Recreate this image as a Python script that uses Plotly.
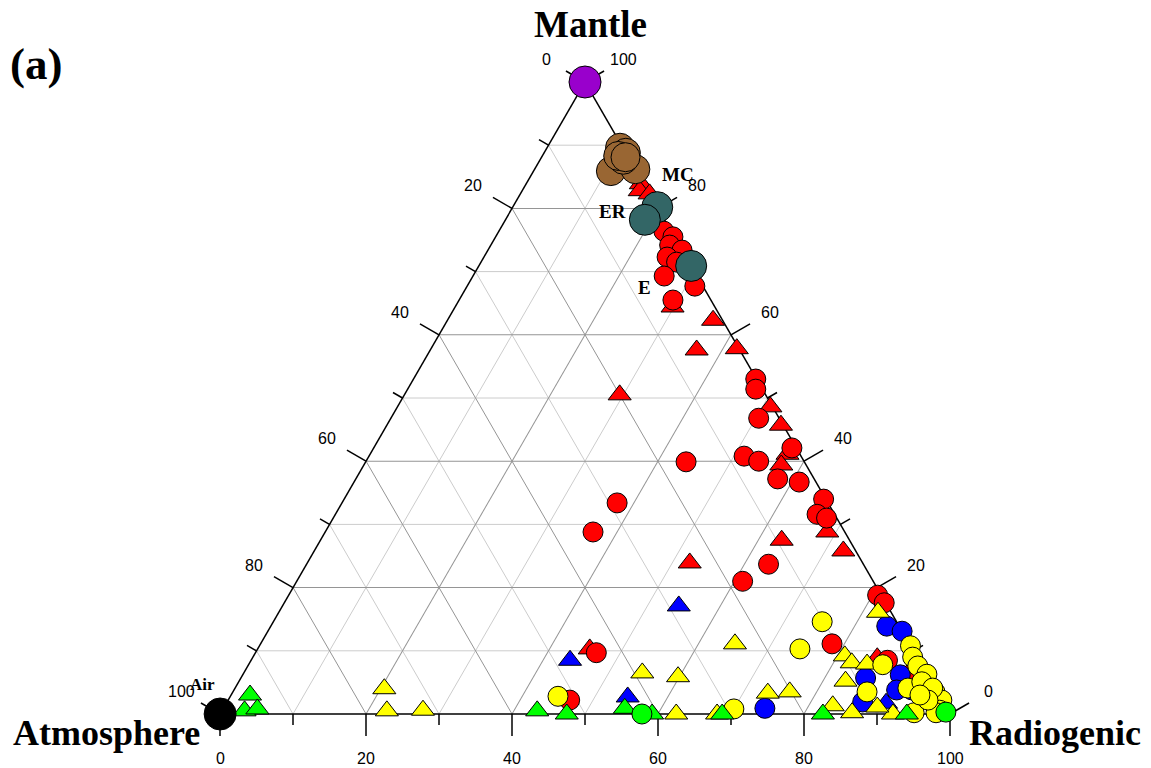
import math
import plotly.graph_objects as go

# Each sample: (mantle %, atmosphere %, radiogenic %)
RED_CIRCLES = [
    (76.4, 1.0, 22.6), (75.5, 0.2, 24.3), (74.2, 1.3, 24.5), (73.4, 0.0, 26.6),
    (72.3, 2.6, 25.1), (71.5, 1.7, 26.8), (69.3, 4.5, 26.2), (67.7, 1.1, 31.2),
    (65.5, 5.2, 29.3), (53.0, 0.1, 46.9), (51.4, 0.9, 47.7), (46.8, 2.8, 50.4),
    (42.1, 0.6, 57.3), (39.9, 16.2, 43.9), (40.8, 7.8, 51.4), (40.0, 6.2, 53.8),
    (37.2, 5.0, 57.8), (36.7, 2.3, 61.0), (34.0, 0.3, 65.7), (31.6, 2.4, 66.0),
    (31.0, 1.4, 67.6), (33.4, 28.9, 37.7), (28.8, 34.5, 36.7), (23.7, 13.0, 63.3),
    (21.0, 17.9, 61.1), (11.1, 10.6, 78.3), (9.7, 43.6, 46.7), (2.2, 51.0, 46.8),
    (18.8, 0.5, 80.7), (17.6, 0.2, 82.2), (8.5, 4.3, 87.2), (5.1, 3.3, 91.6),
    (6.5, 1.8, 91.7),
]
RED_TRIANGLES = [
    (83.9, 0.4, 15.7), (82.8, 1.1, 16.1), (82.3, 0.0, 17.7), (64.4, 5.8, 29.8),
    (62.3, 1.3, 36.4), (57.6, 5.9, 36.5), (57.8, 0.3, 41.9), (50.5, 20.0, 29.5),
    (48.6, 0.3, 51.1), (45.7, 0.3, 54.0), (41.1, 1.7, 57.2), (39.4, 3.4, 57.2),
    (28.8, 2.4, 68.8), (27.5, 9.3, 63.2), (25.8, 1.7, 72.5), (23.9, 23.7, 52.4),
    (10.3, 44.2, 45.5), (8.9, 5.5, 85.6),
]
BLUE_CIRCLES = [
    (13.9, 1.7, 84.4), (13.1, 0.0, 86.9), (5.7, 8.7, 85.6), (1.9, 11.0, 87.1),
    (6.2, 3.7, 90.1), (3.8, 5.4, 90.8), (0.9, 24.9, 74.2), (3.8, 3.3, 92.9),
]
BLUE_TRIANGLES = [
    (17.1, 28.6, 54.3), (8.5, 47.8, 43.7), (2.7, 42.8, 54.5), (1.7, 7.9, 90.4),
]
YELLOW_CIRCLES = [
    (14.6, 10.2, 75.2), (10.3, 15.4, 74.3), (2.8, 52.3, 44.9), (0.8, 29.2, 70.0),
    (3.5, 9.6, 86.9), (7.8, 5.3, 86.9), (10.8, 0.0, 89.2), (9.0, 0.6, 90.4),
    (7.6, 0.6, 91.8), (4.1, 3.7, 92.2), (5.4, 0.7, 93.9), (6.3, 0.0, 93.7),
    (3.5, 0.3, 96.2), (2.2, 0.0, 97.8), (0.6, 1.1, 98.3), (0.2, 4.8, 95.0),
    (0.2, 1.8, 98.0), (5.1, 1.3, 93.6), (4.1, 0.3, 95.6), (2.2, 1.9, 95.9),
    (3.0, 2.6, 94.4),
]
YELLOW_TRIANGLES = [
    (4.0, 75.5, 20.5), (0.5, 76.9, 22.6), (0.6, 71.9, 27.5), (6.5, 38.9, 54.6),
    (5.9, 34.3, 59.8), (0.0, 37.5, 62.5), (11.1, 23.9, 65.0), (0.0, 31.9, 68.1),
    (3.3, 23.3, 73.4), (3.5, 20.2, 76.3), (1.3, 15.4, 83.3), (0.2, 13.3, 86.5),
    (5.2, 11.7, 83.1), (9.2, 9.8, 81.0), (8.1, 9.4, 82.5), (7.9, 7.4, 84.7),
    (16.1, 1.8, 82.1), (0.0, 7.8, 92.2), (1.1, 9.4, 89.5),
]
GREEN_TRIANGLES = [
    (3.0, 94.4, 2.6), (0.5, 96.4, 3.1), (0.8, 94.5, 4.7), (0.5, 56.3, 43.2),
    (0.0, 52.5, 47.5), (0.9, 44.1, 55.0), (0.0, 40.8, 59.2), (0.0, 17.4, 82.6),
    (0.0, 5.9, 94.1), (0.0, 31.2, 68.8),
]
GREEN_CIRCLES = [(0.0, 42.2, 57.8), (0.3, 0.4, 99.3)]
MC_SAMPLES = [
    (89.6, 0.4, 10.0), (88.8, 0.0, 11.2), (85.9, 3.5, 10.6), (86.2, 0.0, 13.8),
    (87.7, 0.9, 11.4), (88.3, 1.3, 10.4), (88.1, 0.4, 11.5),
]
END_MEMBERS = [(80.2, 0.0, 19.8), (78.2, 2.7, 19.1), (70.9, 0.0, 29.1)]
END_MEMBER_NAMES = ["MC", "ER", "E"]
MANTLE = [(100.0, 0.0, 0.0)]
AIR = [(0.0, 100.0, 0.0)]

TICK_VALUES = list(range(0, 101, 10))
LABEL_VALUES = list(range(0, 101, 20))
MINOR_GRID = [10, 30, 50, 70, 90]

# ---- layout geometry (pixels) ----
W, H = 1151, 768
SIDE = 730.0
LEFT, BOTTOM_Y = 220, 714
TRI_H = SIDE * math.sqrt(3) / 2
TOP = BOTTOM_Y - TRI_H
PX_PER_PCT = TRI_H / 100.0

fig = go.Figure()


def add_points(points, symbol, color, size):
    fig.add_trace(go.Scatterternary(
        a=[p[0] for p in points], b=[p[1] for p in points], c=[p[2] for p in points],
        mode="markers", cliponaxis=False, showlegend=False,
        marker=dict(symbol=symbol, color=color, size=size,
                    line=dict(color="black", width=1)),
    ))


RED, BLUE, YELLOW, GREEN = "#FF0000", "#0000FF", "#FFFF00", "#00FF00"
TRI, CIR = 20, 20
add_points(RED_TRIANGLES, "triangle-up", RED, TRI)
add_points(RED_CIRCLES, "circle", RED, CIR)
add_points(BLUE_TRIANGLES, "triangle-up", BLUE, TRI)
add_points(BLUE_CIRCLES, "circle", BLUE, CIR)
add_points(YELLOW_TRIANGLES, "triangle-up", YELLOW, TRI)
add_points(YELLOW_CIRCLES, "circle", YELLOW, CIR)
add_points(GREEN_TRIANGLES, "triangle-up", GREEN, TRI)
add_points(GREEN_CIRCLES, "circle", GREEN, CIR)
add_points(MC_SAMPLES, "circle", "#996633", 29)
add_points(END_MEMBERS, "circle", "#336666", 31)
add_points(MANTLE, "circle", "#9900CC", 32)
add_points(AIR, "circle", "#000000", 32)


def axis(grid):
    return dict(min=0, tickmode="linear", tick0=0, dtick=20, ticks="",
                showticklabels=False, showgrid=True, gridcolor=grid, gridwidth=1,
                showline=True, linecolor="black", linewidth=1.5,
                layer="below traces", title=dict(text=""))


def paper(mantle, atm, radio):
    """Paper coordinates of a ternary point (the triangle fills the plot area)."""
    s = mantle + atm + radio
    return (radio + mantle / 2) / s, mantle / s


shapes = []


def seg(p, q, color, width):
    x0, y0 = paper(*p)
    x1, y1 = paper(*q)
    shapes.append(dict(type="line", xref="paper", yref="paper", layer="below",
                       x0=x0, y0=y0, x1=x1, y1=y1,
                       line=dict(color=color, width=width)))


# finer grid lines between the 20-unit ones
for v in MINOR_GRID:
    seg((v, 100 - v, 0), (v, 0, 100 - v), "#cccccc", 1)
    seg((100 - v, v, 0), (0, v, 100 - v), "#cccccc", 1)
    seg((100 - v, 0, v), (0, 100 - v, v), "#cccccc", 1)

# outward ticks, perpendicular to each edge
for v in TICK_VALUES:
    d = (22 if v % 20 == 0 else 11) / PX_PER_PCT
    seg((0, 100 - v, v), (-d, 100 - v + d / 2, v + d / 2), "black", 1.5)          # bottom
    seg((100 - v, v, 0), (100 - v + d / 2, v + d / 2, -d), "black", 1.5)          # left
    seg((v, 0, 100 - v), (v + d / 2, -d, 100 - v + d / 2), "black", 1.5)          # right

ann = []
tick_font = dict(family="Liberation Sans, Arial", size=16, color="black")
nx, ny = 45 * math.cos(math.radians(30)), 45 * math.sin(math.radians(30))
for v in LABEL_VALUES:
    x, y = paper(0, 100 - v, v)  # bottom: radiogenic
    ann.append(dict(x=x, y=y, yshift=-44, text=str(v)))
    x, y = paper(100 - v, v, 0)  # left: atmosphere
    ann.append(dict(x=x, y=y, xshift=-nx, yshift=ny, text=str(v)))
    x, y = paper(v, 0, 100 - v)  # right: mantle
    ann.append(dict(x=x, y=y, xshift=nx, yshift=ny, text=str(v)))
for a_ in ann:
    a_.update(xref="paper", yref="paper", showarrow=False, font=tick_font,
              xanchor="center", yanchor="middle")


def px_to_paper(px, py):
    return (px - LEFT) / SIDE, (BOTTOM_Y - py) / TRI_H


serif = "Liberation Serif, Times New Roman, serif"
titles = [
    ("Mantle", 590, 24, 37), ("Atmosphere", 106, 733, 36),
    ("Radiogenic", 1055, 733, 36), ("(a)", 36, 64, 45),
]
for text, px, py, size in titles:
    x, y = px_to_paper(px, py)
    ann.append(dict(x=x, y=y, xref="paper", yref="paper", showarrow=False,
                    text=f"<b>{text}</b>", xanchor="center", yanchor="middle",
                    font=dict(family=serif, size=size, color="black")))

point_labels = [("MC", 678, 174, 19), ("ER", 612, 211, 19), ("E", 644, 287, 19), ("Air", 202, 684, 17)]
for text, px, py, size in point_labels:
    x, y = px_to_paper(px, py)
    ann.append(dict(x=x, y=y, xref="paper", yref="paper", showarrow=False,
                    text=f"<b>{text}</b>", xanchor="center", yanchor="middle",
                    font=dict(family=serif, size=size, color="black")))

fig.update_layout(
    width=W, height=H,
    margin=dict(l=LEFT, r=W - LEFT - SIDE, t=TOP, b=H - BOTTOM_Y, pad=0),
    paper_bgcolor="white", plot_bgcolor="white",
    showlegend=False, hovermode=False,
    ternary=dict(
        sum=100, bgcolor="rgba(0,0,0,0)",
        domain=dict(x=[0, 1], y=[0, 1]),
        aaxis=axis("#959595"), baxis=axis("#959595"), caxis=axis("#959595"),
    ),
    shapes=shapes,
    annotations=ann,
)

fig.write_html("out.html")
